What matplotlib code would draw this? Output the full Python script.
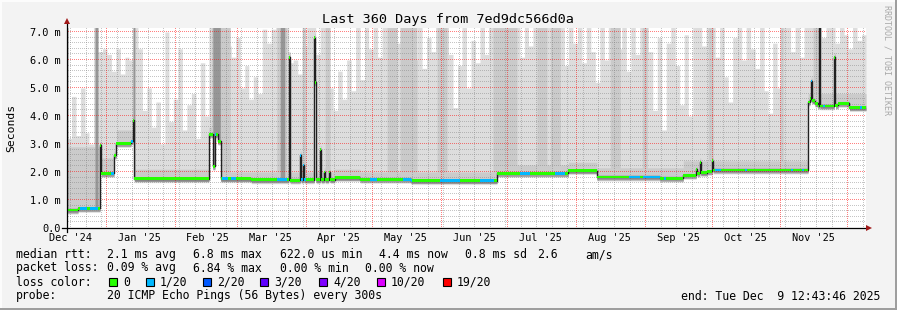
import numpy as np
import pandas as pd
import matplotlib
matplotlib.use("Agg")
import matplotlib.pyplot as plt
from matplotlib.patches import Rectangle, Polygon
from matplotlib.lines import Line2D
from matplotlib.collections import PolyCollection
from matplotlib.transforms import IdentityTransform

plt.rcParams["font.family"] = ["DejaVu Sans Mono", "DejaVu Sans"]

W, H = 897, 310
PX, PY = 67, 228   # plot origin (left, bottom) in pixels from top-left
PW, PH = 799, 200  # plot area in pixels

# time axis: 360 days up to the probe end time
t_end = pd.Timestamp("2025-12-09 12:43:46")
t_start = t_end - pd.Timedelta(days=360)

# median rtt (ms) as steps: (day since start, value)
median_steps = [
    (0.0, 0.64), (5.0, 0.70), (14.9, 2.95), (15.5, 1.95), (21.2, 2.6),
    (22.3, 3.02), (28.8, 3.1), (29.7, 3.85), (30.3, 1.76), (64.0, 3.35),
    (65.8, 2.2), (66.7, 3.35), (68.0, 3.1), (69.4, 1.76), (83.0, 1.72),
    (100.0, 6.1), (100.5, 1.71), (105.0, 2.6), (105.5, 1.72), (106.4, 2.25),
    (106.9, 1.72), (111.3, 6.8), (111.8, 5.2), (112.3, 1.72), (114.0, 2.8),
    (114.5, 1.72), (115.8, 2.0), (116.3, 1.72), (118.0, 2.0), (118.5, 1.73),
    (120.7, 1.80), (132.0, 1.74), (155.0, 1.69), (193.8, 1.95), (225.8, 2.05),
    (238.8, 1.82), (267.0, 1.78), (277.6, 1.88), (283.5, 2.1), (284.0, 1.95),
    (285.0, 2.35), (285.5, 1.98), (288.4, 2.02), (290.7, 2.4), (291.2, 2.07),
    (333.9, 4.5), (334.9, 4.62), (335.2, 5.25), (335.7, 4.55), (337.1, 4.45),
    (338.4, 4.36), (338.8, 7.3), (339.3, 4.36), (345.7, 6.1), (346.2, 4.38),
    (347.5, 4.45), (352.5, 4.3),
]

# stretches with 1/20 packet loss (day ranges), the rest has 0 loss
loss_1_ranges = [
    (6.0, 9.0), (10.5, 14.0), (20.0, 21.0), (29.0, 29.7), (66.5, 67.0),
    (70.0, 72.5), (74.0, 76.0), (94.6, 99.1), (105.0, 107.5), (136.5, 139.7),
    (151.4, 155.5), (168.0, 177.0), (185.9, 192.6), (204.0, 208.5),
    (220.0, 224.5), (253.0, 258.0), (259.5, 267.0), (269.0, 270.0),
    (292.0, 294.5), (305.5, 306.5), (326.0, 327.0), (331.0, 332.0),
    (335.1, 335.6), (340.5, 341.5), (357.3, 358.3),
]

# top of the light smoke (slowest ping, ms), one value per 2 days
smoke_max = [
    3.2, 4.7, 3.3, 5.0, 3.4, 3.0, 7.2, 6.3, 6.4, 6.2,
    5.6, 6.4, 5.5, 6.1, 6.0, 7.2, 6.4, 4.2, 5.0, 3.6,
    4.5, 3.0, 7.0, 3.8, 4.6, 6.4, 3.5, 4.4, 4.8, 3.2,
    5.9, 4.0, 7.2, 7.2, 7.2, 7.2, 6.5, 6.1, 6.8, 5.0,
    5.8, 4.6, 5.4, 4.8, 7.1, 6.6, 7.1, 7.2, 7.2, 7.2,
    5.9, 6.0, 5.5, 6.5, 7.2, 7.2, 6.2, 7.2, 7.2, 5.0,
    4.2, 5.6, 4.6, 6.0, 4.9, 7.2, 5.3, 7.2, 6.4, 7.2,
    6.1, 7.2, 7.2, 7.2, 6.6, 7.2, 7.2, 7.2, 6.0, 7.2,
    5.7, 6.8, 6.3, 7.2, 7.2, 7.2, 6.2, 4.3, 5.8, 7.2,
    5.0, 6.7, 5.9, 7.2, 6.2, 7.2, 7.2, 7.2, 7.2, 7.2,
    6.8, 7.2, 6.1, 7.2, 6.5, 7.2, 7.2, 7.2, 7.2, 7.2,
    6.4, 7.2, 5.8, 7.2, 6.6, 7.2, 5.9, 7.2, 6.3, 5.2,
    7.2, 6.0, 7.2, 7.2, 6.4, 7.2, 5.6, 7.2, 6.2, 7.2,
    7.2, 6.3, 4.2, 6.8, 3.5, 6.6, 7.2, 5.8, 4.4, 6.9,
    4.0, 7.2, 7.2, 6.5, 7.2, 7.2, 6.1, 7.2, 5.4, 4.5,
    6.8, 7.2, 6.0, 7.2, 6.4, 5.7, 7.2, 4.9, 4.1, 6.6,
    5.0, 7.2, 7.2, 6.3, 7.2, 6.1, 7.2, 7.2, 7.2, 7.2,
    6.8, 7.2, 7.2, 6.6, 7.2, 6.9, 6.4, 7.2, 6.7, 6.9,
]

# top of the denser smoke around the median: (day, ms)
smoke_mid_steps = [
    (0.0, 2.9), (14.9, 2.5), (22.3, 3.5), (30.3, 2.1), (64.0, 3.6),
    (69.4, 2.0), (120.7, 2.1), (132.0, 2.0), (193.8, 2.25), (225.8, 2.35),
    (238.8, 2.15), (277.6, 2.4), (291.2, 2.4), (333.9, 4.8),
]

# stretches where many pings were slow (day ranges)
heavy_cols = [
    (65.0, 73.5), (94.6, 99.1), (106.0, 107.5), (116.3, 118.5), (144.2, 148.7),
    (150.0, 157.7), (166.7, 171.2), (192.0, 202.8), (211.8, 216.3),
    (217.7, 222.2), (244.7, 249.2), (259.1, 261.4), (288.9, 291.1),
    (321.3, 322.7), (336.2, 339.3),
]
dark_cols = [(0.0, 0.5), (12.6, 14.0), (29.7, 30.6), (65.8, 69.0), (96.0, 98.2)]

month_labels = ["Dec '24", "Jan '25", "Feb '25", "Mar '25", "Apr '25", "May '25",
                "Jun '25", "Jul '25", "Aug '25", "Sep '25", "Oct '25", "Nov '25"]
y_labels = ["0.0", "1.0 m", "2.0 m", "3.0 m", "4.0 m", "5.0 m", "6.0 m", "7.0 m"]

loss_names = ["0", "1/20", "2/20", "3/20", "4/20", "10/20", "19/20"]
loss_colors = ["#26FF00", "#00B8FF", "#0059FF", "#5E00FF", "#7E00FF", "#DD00FF", "#FF0000"]


def days_of(ts):
    return (pd.DatetimeIndex(ts) - t_start) / pd.Timedelta(days=1)


def step_at(steps, x):
    d = np.array([s[0] for s in steps])
    v = np.array([s[1] for s in steps])
    i = np.searchsorted(d, x, side="right") - 1
    return v[np.clip(i, 0, len(v) - 1)]


def fx(x):
    return x / W


def fy(y):
    return 1 - y / H


YMAX = PH / 28
fig = plt.figure(figsize=(W / 100, H / 100), dpi=100)
fig.patch.set_facecolor("#F3F3F3")
rect = [fx(PX), fy(PY), PW / W, PH / H]
ax = fig.add_axes(rect, zorder=0)
ax.set_facecolor("white")
ax.set_xlim(0, 360)
ax.set_ylim(0, YMAX)
for s in ax.spines.values():
    s.set_visible(False)

# smoke, sampled on a fine column grid
n = 1600
edges = np.linspace(0, 360, n + 1)
cent = (edges[:-1] + edges[1:]) / 2
med = step_at(median_steps, cent)
smax = np.array(smoke_max)[np.minimum((cent // 2).astype(int), len(smoke_max) - 1)]
mid = step_at(smoke_mid_steps, cent)


def band(lo, hi, color, z):
    ax.fill_between(edges, np.append(lo, lo[-1]), np.append(hi, hi[-1]),
                    step="post", color=color, linewidth=0, zorder=z, antialiased=False)


band(med - 0.14, np.maximum(smax, med + 0.2), "#DDDDDD", 1)
for cols, color, z in [(heavy_cols, "#CACACA", 2), (dark_cols, "#969696", 3)]:
    top = med.copy()
    for a, b in cols:
        top = np.where((cent >= a) & (cent < b), 7.3, top)
    band(med - 0.1, top, color, z)
band(med - 0.09, np.maximum(mid, med + 0.15), "#CBCBCB", 2.5)
band(med - 0.06, med + 0.07, "#A0A0A0", 3.5)

# dotted grid (1px on / 1px off) as single-pixel squares in display pixels
mondays = days_of(pd.date_range("2024-12-16", t_end, freq="7D"))
months = days_of(pd.date_range("2025-01-01", "2025-12-01", freq="MS"))
minor_c = (0.5, 0.5, 0.5, 0.45)
major_c = (1.0, 0.0, 0.0, 0.5)
base_y = H - PY  # display y of the plot bottom


def gx(d):
    return PX + int(round(d / 360 * PW))


def gy(v):
    return base_y + int(round(v * 28))


def dots(xs, ys):
    xs = np.asarray(xs, float)
    ys = np.asarray(ys, float)
    return np.stack([np.stack([xs, ys], 1), np.stack([xs + 1, ys], 1),
                     np.stack([xs + 1, ys + 1], 1), np.stack([xs, ys + 1], 1)], 1)


rows = np.arange(base_y + 1, base_y + PH, 2)
cols = np.arange(PX + 1, PX + PW, 2)
minor_v = [gx(d) for d in mondays if PX < gx(d) < PX + PW and gx(d) not in [gx(m) for m in months]]
minor_h = [gy(k * 0.2) for k in range(1, 36) if k % 5]
major_v = [gx(d) for d in months]
major_h = [gy(v) for v in range(1, 8)]

vm = [dots(np.full(rows.size, c), rows) for c in minor_v]
hm = [dots(cols, np.full(cols.size, r)) for r in minor_h]
vM = [dots(np.full(rows.size, c), rows) for c in major_v]
hM = [dots(cols, np.full(cols.size, r)) for r in major_h]
for parts, color in [(vm + hm, minor_c), (vM + hM, major_c)]:
    pc = PolyCollection(np.concatenate(parts), facecolors=[color], edgecolors="none",
                        linewidths=0, antialiased=False, transform=IdentityTransform(), zorder=1)
    fig.add_artist(pc)

# median line and loss colouring on a transparent axes above the grid
ax2 = fig.add_axes(rect, zorder=2)
ax2.patch.set_visible(False)
ax2.set_xlim(0, 360)
ax2.set_ylim(0, YMAX)
ax2.axis("off")
sx = [s[0] for s in median_steps] + [360]
sy = [s[1] for s in median_steps] + [median_steps[-1][1]]
ax2.step(sx, sy, where="post", color="#202020", lw=1.0, zorder=5)
brk = sorted(set([s[0] for s in median_steps] + [a for r in loss_1_ranges for a in r] + [360]))
hw = 1.4 / 28
for a, b in zip(brk[:-1], brk[1:]):
    v = step_at(median_steps, np.array([a]))[0]
    lossy = any(r0 <= a < r1 for r0, r1 in loss_1_ranges)
    ax2.add_patch(Rectangle((a, v - hw), b - a, 2 * hw, color=loss_colors[1] if lossy else loss_colors[0],
                            linewidth=0, zorder=6))

# ticks
label_days = days_of(pd.date_range("2024-12-16", periods=12, freq=pd.DateOffset(months=1)))
ax.set_xticks(label_days, month_labels)
ax.set_yticks(range(8), y_labels)
ax.tick_params(axis="x", length=0, pad=3.6, labelsize=7.4)
ax.tick_params(axis="y", length=0, pad=4.6, labelsize=7.4)
ax.set_xlim(0, 360)
ax.set_ylim(0, YMAX)

# axis lines with arrows
fig.add_artist(Line2D([fx(62), fx(866)], [fy(228), fy(228)], color="black", lw=0.9, zorder=3))
fig.add_artist(Line2D([fx(67), fx(67)], [fy(232), fy(24)], color="black", lw=0.9, zorder=3))
fig.add_artist(Polygon([(fx(866), fy(225)), (fx(866), fy(231)), (fx(872), fy(228))],
                       closed=True, color="#A01818", lw=0, zorder=3))
fig.add_artist(Polygon([(fx(64), fy(24)), (fx(70), fy(24)), (fx(67), fy(18))],
                       closed=True, color="#A01818", lw=0, zorder=3))

# texts
fig.text(fx(448), fy(23), "Last 360 Days from 7ed9dc566d0a", ha="center", va="baseline", fontsize=9.7)
fig.text(fx(11), fy(128), "Seconds", rotation=90, ha="center", va="center", fontsize=8.2)
fig.text(fx(887), fy(5), "RRDTOOL / TOBI OETIKER", rotation=270, ha="center", va="top",
         fontsize=6, color="#A8A8A8")

fs = 8.3
row1 = [("median rtt:", 16), ("2.1 ms avg", 107), ("6.8 ms max", 193), ("622.0 us min", 280),
        ("4.4 ms now", 379), ("0.8 ms sd", 465), ("2.6", 537), ("am/s", 585)]
row2 = [("packet loss:", 16), ("0.09 % avg", 107), ("6.84 % max", 193), ("0.00 % min", 280),
        ("0.00 % now", 365)]
for (txt, x) in row1:
    fig.text(fx(x), fy(258), txt, fontsize=fs, va="baseline")
for (txt, x) in row2:
    fig.text(fx(x), fy(271.5), txt, fontsize=fs, va="baseline")
fig.text(fx(16), fy(285.5), "loss color:", fontsize=fs, va="baseline")
box_x = [109, 146, 203, 260, 319, 377, 443]
for name, c, bx in zip(loss_names, loss_colors, box_x):
    fig.add_artist(Rectangle((fx(bx), fy(286)), 8 / W, 8 / H, facecolor=c, edgecolor="black", lw=0.8))
    fig.text(fx(bx + 14), fy(285.5), name, fontsize=fs, va="baseline")
fig.text(fx(16), fy(299.5), "probe:", fontsize=fs, va="baseline")
fig.text(fx(107), fy(299.5), "20 ICMP Echo Pings (56 Bytes) every 300s", fontsize=fs, va="baseline")
fig.text(fx(880), fy(299.5), "end: Tue Dec  9 12:43:46 2025", fontsize=fs, va="baseline", ha="right")

# 3d frame
fig.add_artist(Rectangle((0, 0), fx(2), 1, color="#FCFCFC", lw=0))
fig.add_artist(Rectangle((0, fy(2)), 1, 2 / H, color="#FCFCFC", lw=0))
fig.add_artist(Rectangle((fx(895), 0), 2 / W, 1, color="#9E9E9E", lw=0))
fig.add_artist(Rectangle((0, 0), 1, 2 / H, color="#9E9E9E", lw=0))

fig.savefig("out.png", dpi=100, facecolor=fig.get_facecolor())
